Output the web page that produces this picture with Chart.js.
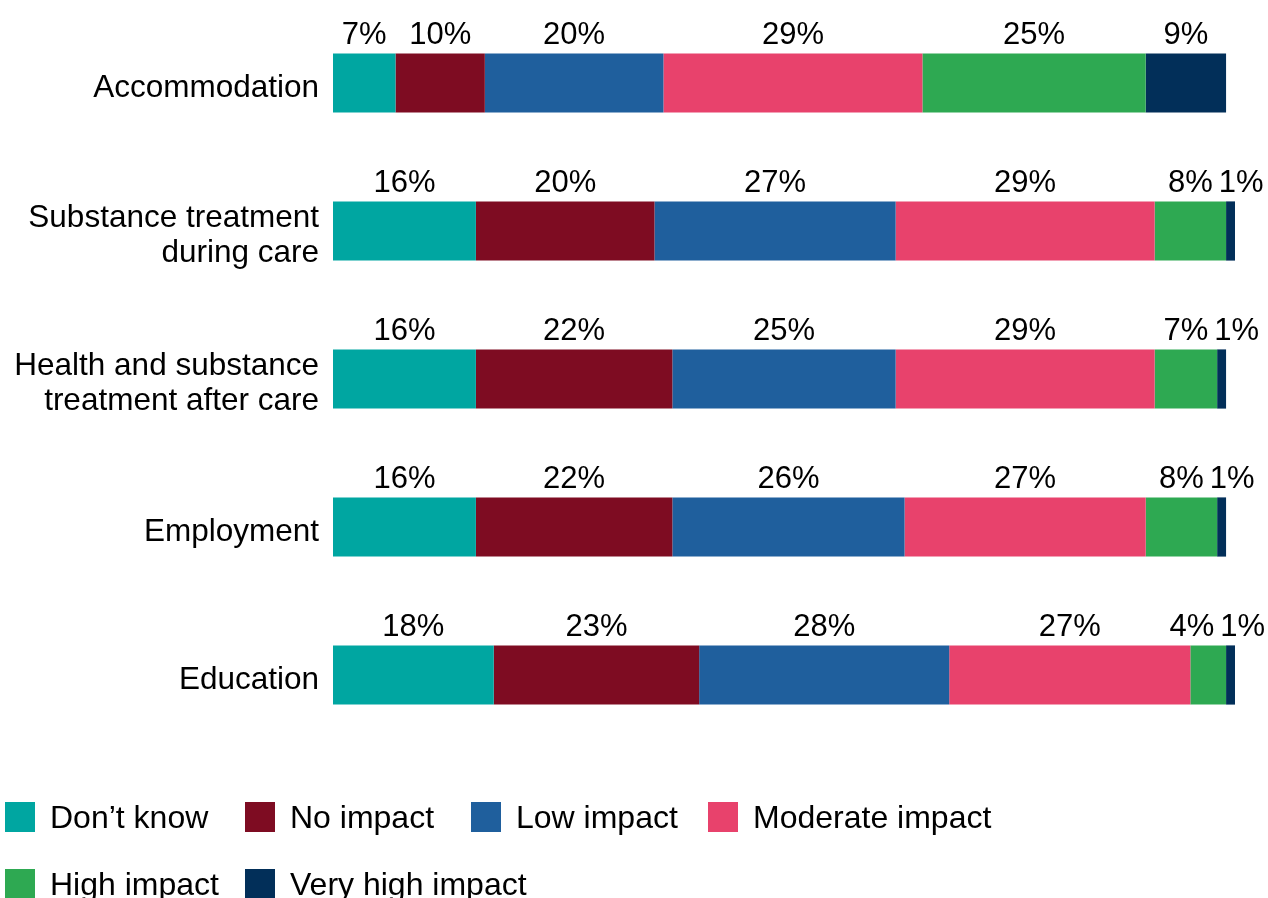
<!DOCTYPE html>
<html>
<head>
<meta charset="utf-8">
<script src="https://cdn.jsdelivr.net/npm/chart.js@4/dist/chart.umd.min.js"></script>
<style>
  html, body { margin: 0; padding: 0; background: #fff; }
  #wrap { position: relative; width: 1268px; height: 898px; overflow: hidden; }
  #chart { position: absolute; left: 0; top: 0; width: 1268px; height: 898px; }
  #legend {
    position: absolute; left: 5px; top: 802px;
    display: grid; grid-template-columns: 240px 226px 237px auto; row-gap: 37px;
    font-family: "Liberation Sans", Arial, sans-serif; font-size: 32px; color: #000;
  }
  #legend .item { display: flex; align-items: center; height: 30px; white-space: nowrap; }
  #legend .swatch { width: 30px; height: 30px; margin-right: 15px; flex: none; }
  #legend .text { line-height: 30px; }
</style>
</head>
<body>
<div id="wrap">
  <div id="chart"><canvas id="c"></canvas></div>
  <div id="legend"></div>
</div>
<script>
// Categories (rows) and the share of respondents per impact level, in %
const categories = [
  "Accommodation",
  ["Substance treatment", "during care"],
  ["Health and substance", "treatment after care"],
  "Employment",
  "Education"
];
const seriesNames = ["Don’t know", "No impact", "Low impact", "Moderate impact", "High impact", "Very high impact"];
const dontKnow       = [7, 16, 16, 16, 18];
const noImpact       = [10, 20, 22, 22, 23];
const lowImpact      = [20, 27, 25, 26, 28];
const moderateImpact = [29, 29, 29, 27, 27];
const highImpact     = [25, 8, 7, 8, 4];
const veryHighImpact = [9, 1, 1, 1, 1];

const seriesValues = [dontKnow, noImpact, lowImpact, moderateImpact, highImpact, veryHighImpact];
const palette = ["#00A6A1", "#7E0C22", "#1F5F9D", "#E8426C", "#2EA952", "#022F59"];

const FONT = '"Liberation Sans", Arial, sans-serif';

// Percentage labels above each segment; crowded neighbours are pushed apart
const segmentLabels = {
  id: 'segmentLabels',
  afterDatasetsDraw(chart) {
    const ctx = chart.ctx;
    const size = 31, gap = 6, limit = chart.width - 3;
    ctx.save();
    ctx.font = size + 'px ' + FONT;
    ctx.fillStyle = '#000';
    ctx.textAlign = 'center';
    ctx.textBaseline = 'alphabetic';
    const rows = categories.length;
    for (let r = 0; r < rows; r++) {
      const items = [];
      chart.data.datasets.forEach((ds, i) => {
        const meta = chart.getDatasetMeta(i);
        if (meta.hidden) return;
        const bar = meta.data[r];
        const v = ds.data[r];
        if (!bar || !v) return;
        const p = bar.getProps(['x', 'y', 'base', 'height'], true);
        const text = v + '%';
        items.push({ text, cx: (p.x + p.base) / 2, w: ctx.measureText(text).width, y: p.y - p.height / 2 - 9 });
      });
      for (let k = 1; k < items.length; k++) {
        const prev = items[k - 1], cur = items[k];
        const minCx = prev.cx + prev.w / 2 + gap + cur.w / 2;
        if (cur.cx < minCx) cur.cx = minCx;
        if (cur.cx + cur.w / 2 > limit) {
          cur.cx = limit - cur.w / 2;
          const maxPrev = cur.cx - cur.w / 2 - gap - prev.w / 2;
          if (prev.cx > maxPrev) prev.cx = maxPrev;
        }
      }
      items.forEach(it => ctx.fillText(it.text, it.cx, it.y));
    }
    ctx.restore();
  }
};

const chart = new Chart(document.getElementById('c'), {
  type: 'bar',
  data: {
    labels: categories,
    datasets: seriesNames.map((name, i) => ({
      label: name,
      data: seriesValues[i],
      backgroundColor: palette[i],
      borderWidth: 0,
      categoryPercentage: 0.8,
      barPercentage: 0.5
    }))
  },
  options: {
    indexAxis: 'y',
    responsive: true,
    maintainAspectRatio: false,
    animation: false,
    layout: { padding: { left: 0, right: 33, top: 9, bottom: 149 } },
    plugins: {
      legend: { display: false },
      tooltip: { enabled: false }
    },
    scales: {
      x: { stacked: true, display: false, min: 0, max: 101 },
      y: {
        stacked: true,
        grid: { display: false, drawTicks: false },
        border: { display: false },
        ticks: {
          color: '#000', padding: 14, labelOffset: 5,
          font: { family: FONT, size: 31.5, lineHeight: 1.1 }
        },
        afterFit(scale) {
          scale.width = 333;
          scale.paddingTop = 0;
          scale.paddingBottom = 0;
        }
      }
    }
  },
  plugins: [segmentLabels]
});

// Legend built from the same series names and colours
const legendEl = document.getElementById('legend');
seriesNames.forEach((name, i) => {
  const item = document.createElement('div');
  item.className = 'item';
  const sw = document.createElement('span');
  sw.className = 'swatch';
  sw.style.background = palette[i];
  const tx = document.createElement('span');
  tx.className = 'text';
  tx.textContent = name;
  item.appendChild(sw);
  item.appendChild(tx);
  legendEl.appendChild(item);
});
</script>
</body>
</html>
